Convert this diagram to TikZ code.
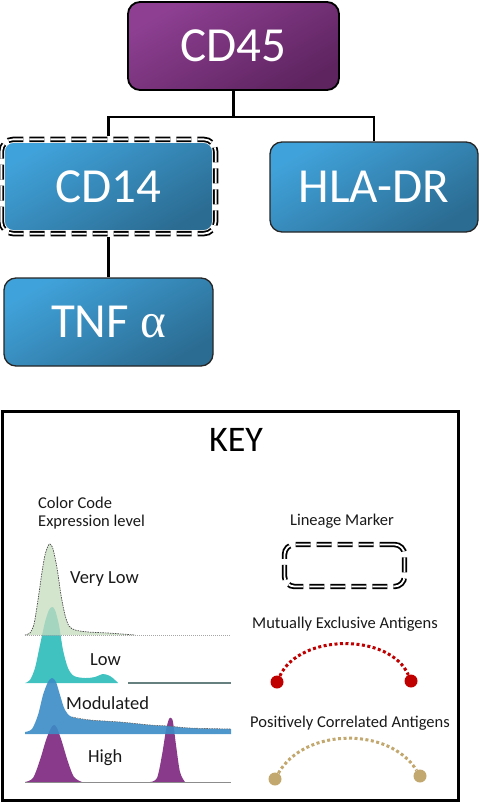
\documentclass[tikz,border=0pt]{standalone}
\usepackage{fontspec}
\setmainfont{Carlito}
\newfontfamily\greekserif{Liberation Serif}
\begin{document}
\begin{tikzpicture}[x=1pt,y=1pt,
  fsz/.style={font=\fontsize{#1}{#1}\selectfont},
  bluebox/.style={draw=black!85, line width=1.3pt, rounded corners=12pt, text=white,
    top color=blueA, bottom color=blueB, shading angle=30, fsz=49},
  purplebox/.style={draw=black, line width=1.8pt, rounded corners=12pt, text=white,
    top color=purpA, bottom color=purpB, shading angle=30, fsz=49},
  lineagedash/.style={dash pattern=on 15pt off 6pt},
  lineage/.style={preaction={draw=white, line width=7pt},
    draw=black, double=white, double distance=1.8pt, line width=1.8pt, lineagedash},
  conn/.style={draw=black, line width=2.4pt},
  lbl/.style={fsz=16.5, text=black!90, inner sep=0pt},
  hlbl/.style={fsz=18.5, text=black!90, inner sep=0pt, anchor=west},
  reddot/.style={circle, fill=redc, minimum size=13pt, inner sep=0pt},
  tandot/.style={circle, fill=tanc, minimum size=13pt, inner sep=0pt},
  redarc/.style={draw=redc, line width=3pt, dash pattern=on 3pt off 2.5pt},
  tanarc/.style={draw=tanc, line width=3pt, dash pattern=on 3pt off 2.5pt}
]
\definecolor{blueA}{HTML}{40A2DA}
\definecolor{blueB}{HTML}{2B6C92}
\definecolor{purpA}{HTML}{8E3F92}
\definecolor{purpB}{HTML}{5E2460}
\definecolor{redc}{HTML}{C00000}
\definecolor{tanc}{HTML}{C2A76E}
\definecolor{vlow}{HTML}{C6DCBE}
\definecolor{lowc}{HTML}{3FC2C0}
\definecolor{modc}{HTML}{3B8CC6}
\definecolor{highc}{HTML}{8A3A8A}
\useasboundingbox (0,0) rectangle (487,-803);

% tree
\node[purplebox, minimum width=211pt, minimum height=88pt] (cd45) at (233.5,-46) {CD45};
\node[bluebox, minimum width=213pt, minimum height=93pt] (cd14) at (108.5,-186.5) {CD14};
\draw[lineage, rounded corners=12pt] (cd14.south west) rectangle (cd14.north east);
\node[bluebox, minimum width=208pt, minimum height=90pt] (hla) at (374,-187) {HLA-DR};
\node[bluebox, minimum width=209pt, minimum height=88pt] (tnf) at (108.5,-322) {TNF {\greekserif α}};
\coordinate (jn) at (233.5,-117);
\draw[conn] (cd45.south) -- (jn) -| ([yshift=3.5pt]cd14.north);
\draw[conn] (jn) -| (hla.north);
\draw[conn] ([yshift=-3.5pt]cd14.south) -- (tnf.north);

% key frame
\node[draw=black, line width=3pt, minimum width=456pt, minimum height=389pt, inner sep=0pt] (key) at (230,-605.5) {};
\node[fsz=36, inner sep=0pt] (keyt) at (236,-440) {KEY};

\node[lbl, anchor=west] (cc1) at (38,-503) {Color Code};
\node[lbl, anchor=west] (cc2) at (38,-522) {Expression level};

% histograms
\fill[lowc] plot[smooth] coordinates {(25,-683) (30,-680) (35,-668) (40,-645) (45,-622) (49,-610) (52,-607) (55,-610) (59,-625) (63,-650) (68,-668) (74,-676) (85,-678) (95,-677) (103,-674) (110,-676) (115,-680) (118,-683)} -- cycle;
\fill[vlow, fill opacity=0.75] plot[smooth] coordinates {(25,-635) (30,-633) (34,-624) (38,-600) (42,-572) (45,-555) (48,-546) (50,-544) (53,-549) (57,-568) (61,-595) (65,-615) (69,-626) (75,-630) (88,-632) (108,-633) (135,-635)} -- cycle;
\draw[black!70, line width=0.7pt, dash pattern=on 1.5pt off 1pt] plot[smooth] coordinates {(25,-635) (30,-633) (34,-624) (38,-600) (42,-572) (45,-555) (48,-546) (50,-544) (53,-549) (57,-568) (61,-595) (65,-615) (69,-626) (75,-630) (88,-632) (108,-633) (135,-635)};
\draw[black!35, line width=0.6pt, dash pattern=on 1pt off 1pt] (25,-635) -- (231,-635);
\draw[gray!80!teal, line width=1.6pt] (128,-683) -- (231,-683);
\fill[highc] plot[smooth] coordinates {(25,-782) (33,-778) (40,-760) (46,-740) (51,-728) (54,-725) (57,-728) (62,-742) (68,-762) (74,-777) (82,-782)} -- cycle;
\fill[highc] plot[smooth] coordinates {(150,-782) (157,-778) (162,-755) (166,-730) (169,-719) (171,-718) (173,-722) (176,-745) (180,-772) (185,-782)} -- cycle;
\fill[modc, fill opacity=0.9] (25,-734) -- plot[smooth] coordinates {(25,-732) (32,-729) (38,-715) (43,-695) (48,-682) (52,-678) (56,-682) (60,-695) (65,-710) (72,-717) (90,-720) (120,-722) (150,-725) (168,-726) (190,-728) (231,-729)} -- (231,-734) -- cycle;
\draw[black!60, line width=0.6pt, dash pattern=on 1.5pt off 1pt] plot[smooth] coordinates {(72,-717) (90,-720) (120,-722) (150,-725) (168,-726) (190,-728) (231,-729)};
\draw[black!45, line width=0.8pt] (25,-782) -- (231,-782);

\node[hlbl] (vl) at (70,-579) {Very Low};
\node[hlbl] (lo) at (90,-660) {Low};
\node[hlbl] (mo) at (66,-703) {Modulated};
\node[hlbl] (hi) at (88,-758) {High};

% right side key
\node[lbl] (lm) at (342,-521) {Lineage Marker};
\node[lineage, rounded corners=10pt, minimum width=120pt, minimum height=42pt, inner sep=0pt] (lbox) at (344.5,-565.5) {};
\node[lbl] (me) at (345,-624) {Mutually Exclusive Antigens};
\node[reddot] (r1) at (277,-682) {};
\node[reddot] (r2) at (411,-681) {};
\draw[redarc] (r1) .. controls (300,-633) and (390,-633) .. (r2);
\node[lbl] (pc) at (350,-723) {Positively Correlated Antigens};
\node[tandot] (t1) at (275,-779) {};
\node[tandot] (t2) at (420,-776) {};
\draw[tanarc] (t1) .. controls (305,-727) and (390,-727) .. (t2);
\end{tikzpicture}
\end{document}
